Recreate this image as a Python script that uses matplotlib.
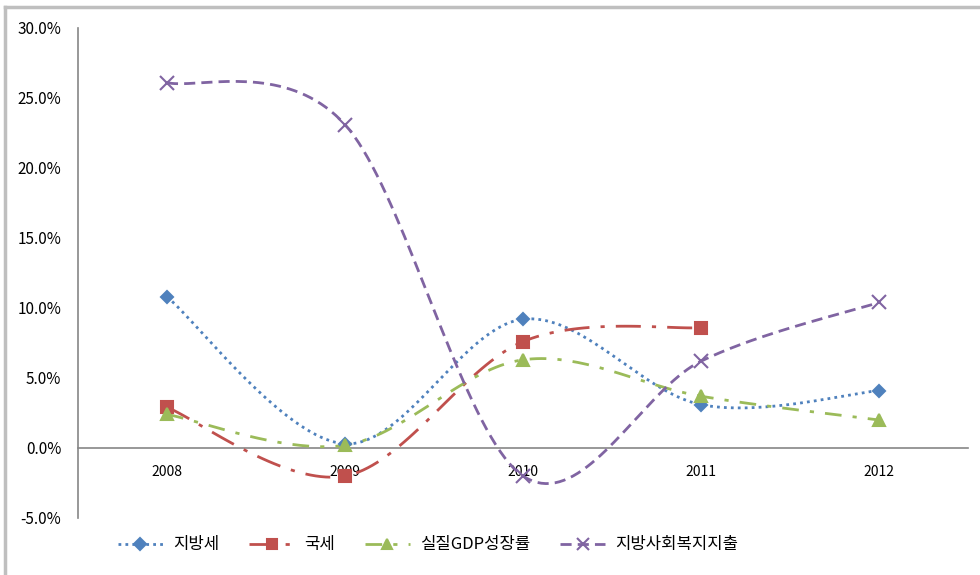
import numpy as np
import matplotlib
matplotlib.use("Agg")
import matplotlib.pyplot as plt
from matplotlib.lines import Line2D

plt.rcParams['font.family'] = ['Noto Sans CJK KR', 'DejaVu Sans']

years = ['2008', '2009', '2010', '2011', '2012']
local_tax = [10.8, 0.3, 9.2, 3.1, 4.1]          # 지방세
national_tax = [2.9, -2.0, 7.6, 8.6, None]       # 국세
real_gdp = [2.4, 0.2, 6.3, 3.7, 2.0]             # 실질GDP성장률
local_welfare = [26.1, 23.1, -2.0, 6.2, 10.4]    # 지방사회복지지출

series_names = ['지방세', '국세', '실질GDP성장률', '지방사회복지지출']
y_ticks = [-5, 0, 5, 10, 15, 20, 25, 30]


def smooth(xs, ys, n=40):
    """Catmull-Rom style smoothing through the points (spreadsheet 'smoothed line')."""
    pts = np.column_stack([xs, ys]).astype(float)
    if len(pts) < 2:
        return pts[:, 0], pts[:, 1]
    ext = np.vstack([pts[0], pts, pts[-1]])
    out = []
    for i in range(1, len(ext) - 2):
        p0, p1, p2, p3 = ext[i - 1], ext[i], ext[i + 1], ext[i + 2]
        c1 = p1 + (p2 - p0) / 6.0
        c2 = p2 - (p3 - p1) / 6.0
        t = np.linspace(0, 1, n)[:, None]
        seg = ((1 - t) ** 3) * p1 + 3 * ((1 - t) ** 2) * t * c1 + 3 * (1 - t) * t ** 2 * c2 + t ** 3 * p2
        out.append(seg if i == 1 else seg[1:])
    out = np.vstack(out)
    return out[:, 0], out[:, 1]


fig = plt.figure(figsize=(9.8, 5.75), dpi=100)
ax = fig.add_axes([78 / 980, 1 - 518 / 575, 890 / 980, 490 / 575])

styles = [
    dict(color='#4F81BD', ls=(0, (1, 1.5)), lw=2.0, marker='D', ms=6.5),
    dict(color='#C0504D', ls=(0, (9, 4, 1.5, 4)), lw=2.0, marker='s', ms=8),
    dict(color='#9BBB59', ls=(0, (6, 4, 1.5, 4)), lw=2.0, marker='^', ms=8),
    dict(color='#8064A2', ls=(0, (4, 2.2)), lw=2.0, marker='x', ms=10),
]

handles = []
for vals, name, st in zip([local_tax, national_tax, real_gdp, local_welfare], series_names, styles):
    xs = [i for i, v in enumerate(vals) if v is not None]
    ys = [v for v in vals if v is not None]
    sx, sy = smooth(xs, ys)
    ax.plot(sx, sy, color=st['color'], ls=st['ls'], lw=st['lw'], zorder=3)
    ax.plot(xs, ys, ls='none', marker=st['marker'], ms=st['ms'], color=st['color'],
            mec=st['color'], mew=1.5, zorder=4)
    handles.append(Line2D([], [], color=st['color'], ls=st['ls'], lw=st['lw'],
                          marker=st['marker'], ms=st['ms'] * 0.9, mew=1.5, mec=st['color'], label=name))

ax.set_xlim(-0.5, 4.5)
ax.set_ylim(-5, 30)
ax.set_yticks(y_ticks)
ax.set_yticklabels([f'{v:.1f}%' for v in y_ticks], fontsize=11)
ax.set_xticks(range(len(years)))
ax.set_xticklabels(years, fontsize=11)

for s in ['top', 'right']:
    ax.spines[s].set_visible(False)
ax.spines['left'].set_color('#868686')
ax.spines['left'].set_linewidth(1.2)
ax.spines['bottom'].set_position(('data', 0))
ax.spines['bottom'].set_color('#868686')
ax.spines['bottom'].set_linewidth(1.2)
ax.tick_params(axis='x', length=0, pad=12)
ax.tick_params(axis='y', length=0, pad=12)

fig.legend(handles=handles, loc='center', bbox_to_anchor=(428 / 980, 1 - 545 / 575),
           ncol=4, frameon=False, fontsize=12, handlelength=2.7, columnspacing=1.8,
           handletextpad=0.6)

# outer chart frame
fig.add_artist(Line2D([5 / 980, 5 / 980], [0, 1 - 7 / 575], color='#BFBFBF', lw=2.5,
                      transform=fig.transFigure))
fig.add_artist(Line2D([5 / 980, 1], [1 - 7 / 575, 1 - 7 / 575], color='#BFBFBF', lw=2.5,
                      transform=fig.transFigure))

fig.savefig('out.png', dpi=100)
